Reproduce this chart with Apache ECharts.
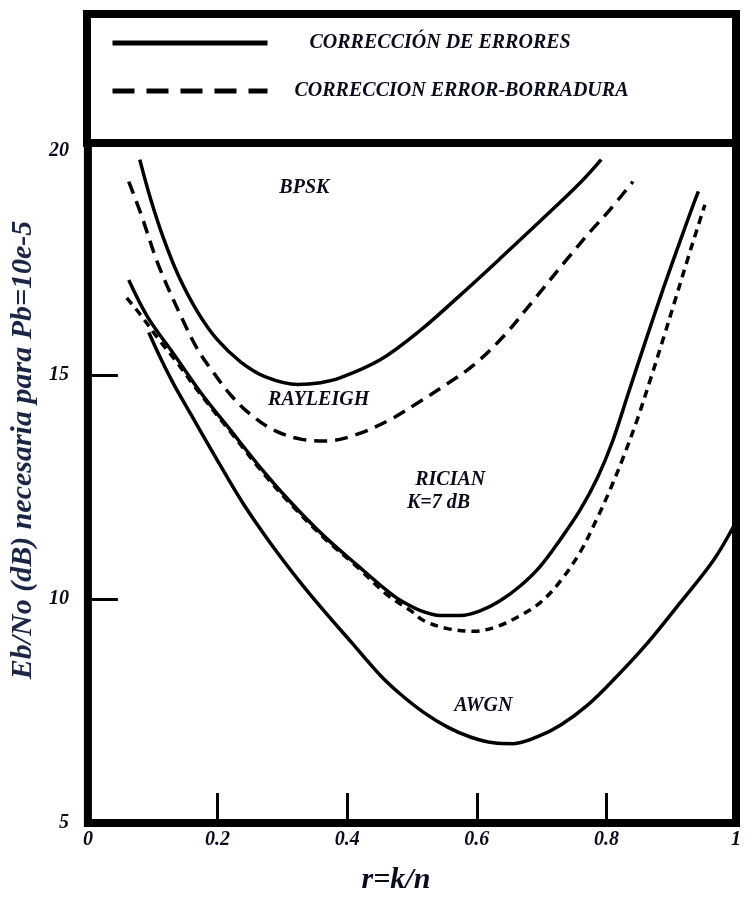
<!DOCTYPE html>
<html>
<head>
<meta charset="utf-8">
<script src="https://cdn.jsdelivr.net/npm/echarts@6/dist/echarts.min.js"></script>
<style>html,body{margin:0;padding:0;background:#fff;}#c{width:746px;height:900px;}</style>
</head>
<body>
<div id="c"></div>
<script>
// Data (r = k/n, Eb/No dB)
var xTicks = [0, 0.2, 0.4, 0.6, 0.8, 1];
var yTicks = [5, 10, 15, 20];
var yTickMarks = [10, 15];
var legendNames = ['CORRECCIÓN DE ERRORES', 'CORRECCION ERROR-BORRADURA'];

var rayleighSolid = [[0.080,19.81],[0.097,18.92],[0.117,18.04],[0.140,17.21],[0.168,16.44],[0.199,15.80],[0.236,15.29],[0.274,14.96],[0.324,14.79],[0.359,14.83],[0.390,14.94],[0.451,15.34],[0.513,16.00],[0.575,16.79],[0.636,17.60],[0.698,18.44],[0.760,19.30],[0.792,19.81]];
var rayleighDashed = [[0.063,19.32],[0.082,18.59],[0.109,17.45],[0.146,16.24],[0.169,15.58],[0.193,15.07],[0.220,14.56],[0.251,14.12],[0.287,13.77],[0.328,13.57],[0.370,13.53],[0.416,13.68],[0.467,14.01],[0.508,14.37],[0.555,14.81],[0.595,15.22],[0.641,15.86],[0.687,16.66],[0.740,17.60],[0.775,18.20],[0.806,18.70],[0.841,19.32]];
var ricianSolid = [[0.063,17.12],[0.092,16.30],[0.133,15.46],[0.174,14.61],[0.220,13.77],[0.271,12.85],[0.313,12.16],[0.364,11.41],[0.416,10.75],[0.462,10.18],[0.482,9.97],[0.513,9.74],[0.544,9.63],[0.575,9.63],[0.606,9.74],[0.636,9.96],[0.667,10.29],[0.698,10.73],[0.729,11.33],[0.760,12.00],[0.786,12.70],[0.809,13.50],[0.834,14.60],[0.860,15.74],[0.888,16.94],[0.914,18.00],[0.934,18.80],[0.942,19.10]];
var ricianDashed = [[0.060,16.72],[0.082,16.33],[0.108,15.82],[0.136,15.31],[0.166,14.72],[0.220,13.73],[0.271,12.80],[0.313,12.12],[0.364,11.37],[0.416,10.71],[0.462,10.09],[0.498,9.74],[0.518,9.52],[0.555,9.34],[0.595,9.28],[0.632,9.39],[0.667,9.63],[0.698,9.92],[0.729,10.40],[0.760,11.06],[0.786,11.81],[0.806,12.45],[0.826,13.16],[0.847,13.98],[0.867,14.86],[0.888,15.82],[0.906,16.67],[0.924,17.52],[0.940,18.26],[0.952,18.80]];
var awgnSolid = [[0.094,15.95],[0.112,15.38],[0.133,14.78],[0.159,14.12],[0.200,13.09],[0.240,12.12],[0.282,11.24],[0.324,10.44],[0.364,9.74],[0.405,9.06],[0.451,8.30],[0.482,7.88],[0.518,7.47],[0.555,7.14],[0.590,6.92],[0.626,6.79],[0.656,6.77],[0.693,6.92],[0.729,7.18],[0.771,7.63],[0.810,8.18],[0.863,9.01],[0.914,9.92],[0.965,10.86],[1.0,11.72]];

var annotationTexts = ['BPSK', 'RAYLEIGH', 'RICIAN', 'K=7 dB', 'AWGN'];
var annotationR = [0.334, 0.356, 0.559, 0.541, 0.610];
var annotationV = [19.19, 14.45, 12.65, 12.14, 7.62];

var FONT = 'Liberation Serif';
var INK = '#0a0c1c';

function solid(data) {
  return { type: 'line', name: legendNames[0], data: data, smooth: 0.35, symbol: 'none',
    lineStyle: { color: '#000', width: 3.5, type: 'solid' }, itemStyle: { color: '#000' }, z: 3 };
}
function dashed(data, dash) {
  return { type: 'line', name: legendNames[1], data: data, smooth: 0.35, symbol: 'none',
    lineStyle: { color: '#000', width: 3.5, type: dash }, itemStyle: { color: '#000' }, z: 3 };
}

var chart = echarts.init(document.getElementById('c'), null, { renderer: 'canvas' });
chart.setOption({
  animation: false,
  backgroundColor: '#fff',
  grid: { left: 87, top: 143, width: 649, height: 689, show: true, borderColor: '#000', borderWidth: 8, backgroundColor: 'transparent' },
  legend: {
    orient: 'vertical', left: 110, top: 33, padding: 0, itemWidth: 155, itemHeight: 14, itemGap: 28,
    selectedMode: false,
    itemStyle: { opacity: 0 },
    data: [
      { name: legendNames[0], lineStyle: { width: 5, type: 'solid' }, textStyle: { padding: [0, 0, 0, 37] } },
      { name: legendNames[1], lineStyle: { width: 5, type: [22, 12] }, textStyle: { padding: [0, 0, 0, 22] } }
    ],
    textStyle: { fontFamily: FONT, fontStyle: 'italic', fontWeight: 'bold', fontSize: 20, color: INK }
  },
  graphic: [
    { type: 'rect', left: 83, top: 10, shape: { width: 649, height: 129 }, style: { fill: 'none', stroke: '#000', lineWidth: 8 }, z: 0, silent: true }
  ],
  xAxis: {
    type: 'value', min: xTicks[0], max: xTicks[xTicks.length - 1], interval: 0.2,
    name: 'r=k/n', nameLocation: 'middle', nameGap: 42,
    nameTextStyle: { fontFamily: FONT, fontStyle: 'italic', fontWeight: 'bold', fontSize: 30, color: INK, padding: [0, 32, 0, 0] },
    axisLine: { show: false },
    axisTick: { show: true, inside: true, length: 30, lineStyle: { color: '#000', width: 3 } },
    splitLine: { show: false },
    axisLabel: { margin: 7, fontFamily: FONT, fontStyle: 'italic', fontWeight: 'bold', fontSize: 20, color: INK,
      formatter: function (v) { return String(Math.round(v * 10) / 10); } }
  },
  yAxis: {
    type: 'value', min: yTicks[0], max: 20.18, interval: 5,
    name: 'Eb/No (dB) necesaria para Pb=10e-5', nameLocation: 'middle', nameGap: 41, nameRotate: 90,
    nameTextStyle: { fontFamily: FONT, fontStyle: 'italic', fontWeight: 'bold', fontSize: 30, color: '#1b2545', padding: [0, 0, 0, 66] },
    axisLine: { show: false },
    axisTick: { show: true, inside: true, length: 30, customValues: yTickMarks, lineStyle: { color: '#000', width: 3 } },
    splitLine: { show: false },
    axisLabel: { margin: 19, customValues: yTicks, fontFamily: FONT, fontStyle: 'italic', fontWeight: 'bold', fontSize: 20, color: INK,
      formatter: function (v) { return yTicks.indexOf(Math.round(v * 100) / 100) >= 0 ? String(v) : ''; } }
  },
  series: [
    solid(rayleighSolid),
    dashed(rayleighDashed, [13, 8]),
    solid(ricianSolid),
    dashed(ricianDashed, [8, 6]),
    solid(awgnSolid),
    {
      type: 'scatter', name: 'labels', symbolSize: 0, silent: true, z: 4,
      itemStyle: { opacity: 1 },
      data: annotationTexts.map(function (t, i) { return { value: [annotationR[i], annotationV[i]], name: t }; }),
      label: { show: true, position: 'inside', opacity: 1, formatter: '{b}', fontFamily: FONT, fontStyle: 'italic', fontWeight: 'bold', fontSize: 20, color: INK }
    }
  ]
});
</script>
</body>
</html>
